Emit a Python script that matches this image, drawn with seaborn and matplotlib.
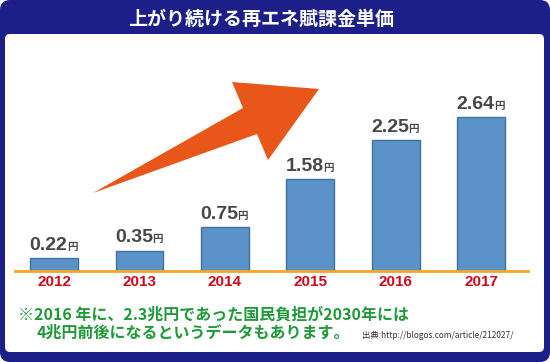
import matplotlib
matplotlib.use('Agg')
import pandas as pd
import matplotlib.pyplot as plt
from matplotlib.patches import FancyBboxPatch, Polygon
import seaborn as sns

# データ: 再エネ賦課金単価 (円/kWh)
years = ['2012', '2013', '2014', '2015', '2016', '2017']
unit_price = [0.22, 0.35, 0.75, 1.58, 2.25, 2.64]
value_labels = ['0.22', '0.35', '0.75', '1.58', '2.25', '2.64']
title = '上がり続ける再エネ賦課金単価'
note_line1 = '※2016 年に、2.3兆円であった国民負担が2030年には'
note_line2 = '4兆円前後になるというデータもあります。'
source = '出典:http://blogos.com/article/212027/'

sns.set_theme(style='white')
plt.rcParams['font.family'] = ['Noto Sans CJK JP', 'DejaVu Sans']

NAVY = '#1b1f87'
BAR = '#5b93c9'
BAR_EDGE = '#41719c'
ORANGE_LINE = '#f5a623'
ARROW = '#e8561a'
YEAR_RED = '#cc0a1e'
GREEN = '#1f9a38'

fig = plt.figure(figsize=(5.5, 3.62), dpi=100)
fig.patch.set_facecolor('white')

# 背景 (ピクセル座標)
bg = fig.add_axes([0, 0, 1, 1])
bg.set_xlim(0, 550)
bg.set_ylim(362, 0)
bg.axis('off')
bg.add_patch(FancyBboxPatch((0, 0), 550, 362, boxstyle='round,pad=0,rounding_size=10',
                            fc=NAVY, ec='none'))
bg.add_patch(FancyBboxPatch((5, 34), 539, 318, boxstyle='round,pad=0,rounding_size=5',
                            fc='white', ec='none'))
# 矢印 (装飾)
arrow_pts = [(93, 193), (243, 108), (232, 82), (319, 89), (268, 160), (257, 134)]
bg.add_patch(Polygon(arrow_pts, closed=True, fc=ARROW, ec='none'))

bg.text(261, 19, title, color='white', fontsize=13.7, fontweight='bold',
        ha='center', va='center')
bg.text(18, 315, note_line1, color=GREEN, fontsize=11.5, fontweight='bold',
        ha='left', va='center')
bg.text(37, 333, note_line2, color=GREEN, fontsize=11.5, fontweight='bold',
        ha='left', va='center')
bg.text(362, 335, source, color='#333333', fontsize=6, ha='left', va='center')

# 棒グラフ
df = pd.DataFrame({'year': years, 'price': unit_price})
ax = fig.add_axes([15 / 550, (362 - 271) / 362, 513 / 550, 211 / 362])
ax.patch.set_alpha(0)
sns.barplot(data=df, x='year', y='price', ax=ax, color=BAR, width=0.56,
            edgecolor=BAR_EDGE, linewidth=1, saturation=1)
ax.set_xlim(-0.457, 5.55)
ax.set_ylim(0, 3.62)
ax.set_yticks([])
ax.set_xlabel('')
ax.set_ylabel('')
for s in ['top', 'left', 'right']:
    ax.spines[s].set_visible(False)
ax.spines['bottom'].set_color(ORANGE_LINE)
ax.spines['bottom'].set_linewidth(2)
ax.tick_params(axis='x', length=0, pad=3)
ax.set_xticks(range(len(years)))
ax.set_xticklabels(years, color=YEAR_RED, fontweight='bold', fontsize=11,
                   family='Liberation Sans')

for i, (v, lbl) in enumerate(zip(unit_price, value_labels)):
    t = ax.annotate(lbl, xy=(i, v), xytext=(-4, 3), textcoords='offset points',
                    ha='center', va='bottom', fontsize=14, fontweight='bold',
                    color='#474747', family='Liberation Sans')
    ax.annotate('円', xy=(1, 0), xycoords=t, xytext=(-0.5, 1.5), textcoords='offset points',
                ha='left', va='bottom', fontsize=7.5, fontweight='bold', color='#474747')

fig.savefig('out.png', dpi=100)
